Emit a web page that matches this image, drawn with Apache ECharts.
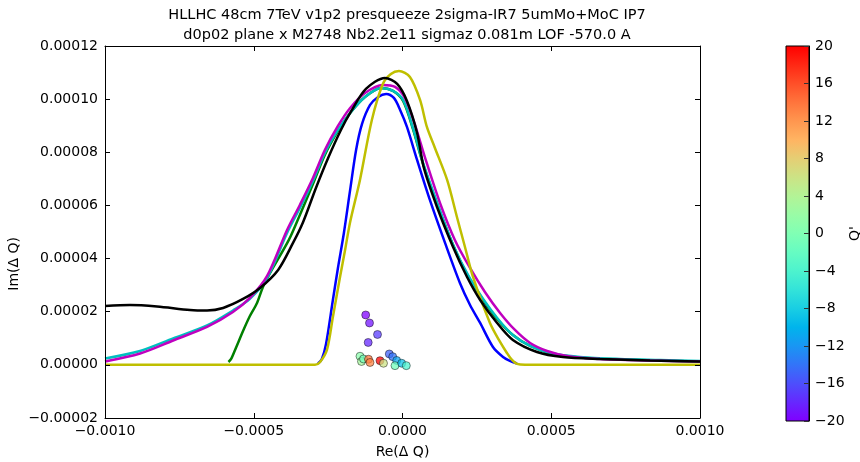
<!DOCTYPE html>
<html><head><meta charset="utf-8">
<script src="https://cdn.jsdelivr.net/npm/echarts@6/dist/echarts.min.js"></script>
<style>html,body{margin:0;padding:0;background:#fff}#c{width:860px;height:462px}</style>
</head><body><div id="c"></div>
<script>
const titleText = 'HLLHC 48cm 7TeV v1p2 presqueeze 2sigma-IR7 5umMo+MoC IP7\nd0p02 plane x M2748 Nb2.2e11 sigmaz 0.081m LOF -570.0 A';
const xAxisLabel = 'Re(\u0394 Q)';
const yAxisLabel = 'Im(\u0394 Q)';
const colorbarLabel = "Q'";
const xMin = -0.001, xMax = 0.001, xStep = 0.0005;
const yMin = -0.00002, yMax = 0.00012, yStep = 0.00002;
const qMin = -20, qMax = 20, qStep = 4;

const curveBlue = [[-2.84e-4,0.053e-5],[-2.71e-4,0.222e-5],[-2.57e-4,0.787e-5],[-2.34e-4,2.443e-5],[-2.17e-4,3.647e-5],[-1.97e-4,4.964e-5],[-1.76e-4,6.583e-5],[-1.56e-4,8.088e-5],[-1.36e-4,9.067e-5],[-1.09e-4,9.782e-5],[-0.82e-4,10.083e-5],[-0.55e-4,10.196e-5],[-0.29e-4,10.045e-5],[-0.08e-4,9.594e-5],[0.15e-4,8.954e-5],[0.49e-4,7.712e-5],[0.92e-4,6.206e-5],[1.43e-4,4.588e-5],[1.93e-4,3.082e-5],[2.27e-4,2.254e-5],[2.61e-4,1.577e-5],[3.04e-4,0.674e-5],[3.38e-4,0.297e-5],[3.61e-4,0.147e-5],[3.85e-4,0.053e-5]];
const curveGreen = [[-5.85e-4,0.109e-5],[-5.76e-4,0.222e-5],[-5.60e-4,0.636e-5],[-5.36e-4,1.276e-5],[-5.13e-4,1.840e-5],[-4.89e-4,2.330e-5],[-4.69e-4,2.932e-5],[-4.45e-4,3.459e-5],[-3.82e-4,4.701e-5],[-3.45e-4,5.642e-5],[-3.01e-4,6.808e-5],[-2.61e-4,7.900e-5],[-2.17e-4,8.803e-5],[-1.76e-4,9.481e-5],[-1.26e-4,10.083e-5],[-0.72e-4,10.422e-5],[-0.32e-4,10.309e-5],[0.02e-4,9.932e-5],[0.35e-4,8.878e-5],[0.69e-4,7.561e-5],[1.19e-4,5.980e-5],[1.70e-4,4.513e-5],[2.20e-4,3.346e-5],[2.71e-4,2.443e-5],[3.21e-4,1.690e-5],[3.71e-4,1.125e-5],[4.29e-4,0.711e-5],[5.06e-4,0.410e-5],[5.97e-4,0.279e-5],[7.31e-4,0.203e-5],[8.66e-4,0.166e-5],[10.0e-4,0.128e-5]];
const curveCyan = [[-10.0e-4,0.241e-5],[-8.82e-4,0.523e-5],[-7.71e-4,0.994e-5],[-6.57e-4,1.483e-5],[-5.70e-4,2.047e-5],[-5.13e-4,2.480e-5],[-4.55e-4,3.271e-5],[-3.88e-4,4.964e-5],[-3.45e-4,5.905e-5],[-3.01e-4,6.921e-5],[-2.61e-4,7.975e-5],[-2.17e-4,8.841e-5],[-1.76e-4,9.481e-5],[-1.26e-4,10.083e-5],[-0.72e-4,10.422e-5],[-0.32e-4,10.309e-5],[0.02e-4,9.970e-5],[0.35e-4,8.916e-5],[0.69e-4,7.599e-5],[1.19e-4,6.018e-5],[1.70e-4,4.513e-5],[2.20e-4,3.384e-5],[2.71e-4,2.480e-5],[3.21e-4,1.728e-5],[3.71e-4,1.125e-5],[4.29e-4,0.711e-5],[4.96e-4,0.448e-5],[5.97e-4,0.297e-5],[7.31e-4,0.222e-5],[8.66e-4,0.184e-5],[10.0e-4,0.147e-5]];
const curveMagenta = [[-10.0e-4,0.128e-5],[-8.82e-4,0.429e-5],[-7.71e-4,0.918e-5],[-6.57e-4,1.426e-5],[-5.70e-4,1.991e-5],[-5.13e-4,2.518e-5],[-4.55e-4,3.346e-5],[-3.88e-4,5.077e-5],[-3.45e-4,6.018e-5],[-3.01e-4,7.034e-5],[-2.61e-4,8.088e-5],[-2.17e-4,8.991e-5],[-1.76e-4,9.669e-5],[-1.26e-4,10.234e-5],[-0.66e-4,10.534e-5],[-0.25e-4,10.459e-5],[0.08e-4,10.045e-5],[0.42e-4,9.029e-5],[0.76e-4,7.787e-5],[1.26e-4,6.093e-5],[1.76e-4,4.701e-5],[2.27e-4,3.647e-5],[2.77e-4,2.744e-5],[3.28e-4,1.953e-5],[3.78e-4,1.313e-5],[4.29e-4,0.824e-5],[4.86e-4,0.523e-5],[5.53e-4,0.335e-5],[6.64e-4,0.222e-5],[8.32e-4,0.166e-5],[10.0e-4,0.128e-5]];
const curveYellow = [[-10.0e-4,0],[-2.94e-4,0],[-2.77e-4,0.109e-5],[-2.54e-4,0.561e-5],[-2.34e-4,1.803e-5],[-2.10e-4,3.308e-5],[-1.93e-4,4.324e-5],[-1.76e-4,5.378e-5],[-1.43e-4,6.959e-5],[-1.03e-4,9.217e-5],[-0.66e-4,10.572e-5],[-0.39e-4,10.948e-5],[-0.12e-4,11.061e-5],[0.25e-4,10.836e-5],[0.59e-4,9.970e-5],[0.82e-4,8.954e-5],[1.09e-4,8.163e-5],[1.50e-4,6.959e-5],[1.83e-4,5.566e-5],[2.10e-4,4.437e-5],[2.37e-4,3.308e-5],[2.94e-4,1.577e-5],[3.28e-4,0.862e-5],[3.51e-4,0.448e-5],[3.68e-4,0.184e-5],[3.85e-4,0.034e-5],[4.12e-4,0],[10.0e-4,0]];
const curveBlack = [[-10.0e-4,2.217e-5],[-9.16e-4,2.254e-5],[-8.25e-4,2.198e-5],[-7.14e-4,2.066e-5],[-6.57e-4,2.047e-5],[-6.03e-4,2.142e-5],[-5.36e-4,2.480e-5],[-4.79e-4,2.894e-5],[-4.18e-4,3.572e-5],[-3.68e-4,4.588e-5],[-3.34e-4,5.378e-5],[-2.91e-4,6.658e-5],[-2.50e-4,7.787e-5],[-2.07e-4,8.841e-5],[-1.72e-4,9.556e-5],[-1.23e-4,10.384e-5],[-0.59e-4,10.798e-5],[-0.18e-4,10.572e-5],[0.15e-4,9.932e-5],[0.49e-4,8.728e-5],[0.72e-4,7.411e-5],[1.16e-4,5.943e-5],[1.70e-4,4.437e-5],[2.17e-4,3.308e-5],[2.61e-4,2.443e-5],[3.18e-4,1.577e-5],[3.71e-4,0.937e-5],[4.52e-4,0.486e-5],[5.39e-4,0.297e-5],[6.64e-4,0.222e-5],[8.32e-4,0.166e-5],[10.0e-4,0.128e-5]];

// scatter points: Re, Im, Q'
const pointsRe = [-1.237e-4,-1.109e-4,-0.840e-4,-1.153e-4,-1.429e-4,-1.378e-4,-1.311e-4,-1.143e-4,-1.092e-4,-0.756e-4,-0.639e-4,-0.444e-4,-0.329e-4,-0.195e-4,-0.252e-4,-0.027e-4,0.128e-4];
const pointsIm = [1.878e-5,1.577e-5,1.144e-5,0.843e-5,0.324e-5,0.128e-5,0.222e-5,0.211e-5,0.090e-5,0.158e-5,0.060e-5,0.410e-5,0.309e-5,0.166e-5,-0.030e-5,0.060e-5,-0.030e-5];
const pointsQ = [-20,-19,-17,-18,1,3,-1,14,13,20,6,-15,-14,-11,-1,-9,-4];

const curves = [
  {name:'b', color:'#0000ff', data:curveBlue},
  {name:'g', color:'#008000', data:curveGreen},
  {name:'c', color:'#00bfbf', data:curveCyan},
  {name:'m', color:'#bf00bf', data:curveMagenta},
  {name:'y', color:'#bfbf00', data:curveYellow},
  {name:'k', color:'#000000', data:curveBlack}
];

// matplotlib 'rainbow' colormap
function rainbow(t){
  const r = Math.min(1, Math.abs(2*t-0.5)), g = Math.sin(Math.PI*t), b = Math.cos(Math.PI*t/2);
  const h = v => Math.round(Math.max(0,Math.min(1,v))*255).toString(16).padStart(2,'0');
  return '#'+h(r)+h(g)+h(b);
}
const nStops = 21;
const cmapColors = [], gradStops = [];
for (let i=0;i<nStops;i++){ const t=i/(nStops-1); cmapColors.push(rainbow(t)); gradStops.push({offset:t, color:rainbow(t)}); }

const FONT = 'DejaVu Sans';
const minus = s => s.replace('-', '\u2212');
const fmt = d => v => { if (Math.abs(v) < 1e-12) v = 0; return (v<0?'\u2212':'') + Math.abs(v).toFixed(d); };

const chart = echarts.init(document.getElementById('c'), null, {renderer:'canvas'});
const G = {left:105, top:46, width:595, height:372};
const axisCommon = {
  axisLine:{show:true, onZero:false, lineStyle:{color:'#000', width:1}},
  axisTick:{show:true, inside:true, length:5, lineStyle:{color:'#000'}},
  splitLine:{show:false}, z:6
};
const series = curves.map(c => ({
  type:'line', name:c.name, xAxisIndex:0, yAxisIndex:0, data:c.data,
  showSymbol:false, symbol:'none', smooth:0.3,
  lineStyle:{color:c.color, width:2.5}, itemStyle:{color:c.color},
  silent:true, z:2
}));
series.push({
  type:'scatter', name:'pts', xAxisIndex:0, yAxisIndex:0,
  data: pointsRe.map((x,i)=>[x, pointsIm[i], pointsQ[i]]),
  symbolSize:8, itemStyle:{borderColor:'#000', borderWidth:0.6, opacity:0.75}, z:5
});
series.push({
  type:'line', name:'cbar', xAxisIndex:2, yAxisIndex:2, data:[[0,qMin],[1,qMax]],
  symbol:'none', lineStyle:{opacity:0}, silent:true, z:1,
  markArea:{silent:true, z:1, data:[[{xAxis:0, yAxis:qMin},{xAxis:1, yAxis:qMax}]],
    itemStyle:{color:new echarts.graphic.LinearGradient(0,1,0,0,gradStops)}}
});

chart.setOption({
  animation:false,
  backgroundColor:'#fff',
  textStyle:{fontFamily:FONT},
  title:{text:titleText, left:402, textAlign:'center', top:0,
    textStyle:{fontFamily:FONT, fontSize:14.5, fontWeight:'normal', color:'#000', lineHeight:20}},
  grid:[
    Object.assign({containLabel:false, outerBoundsMode:'none'}, G),
    {left:786, top:46, width:23, height:375, show:true, borderColor:'#000', borderWidth:1, backgroundColor:'transparent', containLabel:false, outerBoundsMode:'none', z:8}
  ],
  xAxis:[
    Object.assign({type:'value', gridIndex:0, position:'bottom', min:xMin, max:xMax, interval:xStep,
      name:xAxisLabel, nameLocation:'middle', nameGap:27, nameTextStyle:{fontFamily:FONT, fontSize:14, color:'#000'},
      axisLabel:{formatter:fmt(4), fontFamily:FONT, fontSize:14, color:'#000', margin:6, showMinLabel:true, showMaxLabel:true}}, axisCommon),
    Object.assign({type:'value', gridIndex:0, position:'top', min:xMin, max:xMax, interval:xStep, axisLabel:{show:false}}, axisCommon),
    {type:'value', gridIndex:1, min:0, max:1, show:false}
  ],
  yAxis:[
    Object.assign({type:'value', gridIndex:0, position:'left', min:yMin, max:yMax, interval:yStep,
      axisLabel:{formatter:fmt(5), fontFamily:FONT, fontSize:14, color:'#000', margin:7, showMinLabel:true, showMaxLabel:true}}, axisCommon),
    Object.assign({type:'value', gridIndex:0, position:'right', min:yMin, max:yMax, interval:yStep, axisLabel:{show:false}}, axisCommon),
    {type:'value', gridIndex:1, position:'right', min:qMin, max:qMax, interval:qStep, z:10,
      name:colorbarLabel, nameLocation:'middle', nameGap:38, nameRotate:90, nameTextStyle:{fontFamily:FONT, fontSize:14, color:'#000'},
      axisLine:{show:true, onZero:false, lineStyle:{color:'#000'}}, splitLine:{show:false},
      axisTick:{show:true, inside:true, length:5, lineStyle:{color:'#333'}},
      axisLabel:{formatter:v=>minus(String(v)), fontFamily:FONT, fontSize:14, color:'#000', margin:6, showMinLabel:true, showMaxLabel:true}}
  ],
  graphic:[
    {type:'text', left:7, top:237, rotation:Math.PI/2, style:{text:yAxisLabel, font:'14px "DejaVu Sans"', fill:'#000'}}
  ],
  visualMap:{type:'continuous', show:false, seriesIndex:6, dimension:2, min:qMin, max:qMax, inRange:{color:cmapColors}},
  series:series
});
</script></body></html>
